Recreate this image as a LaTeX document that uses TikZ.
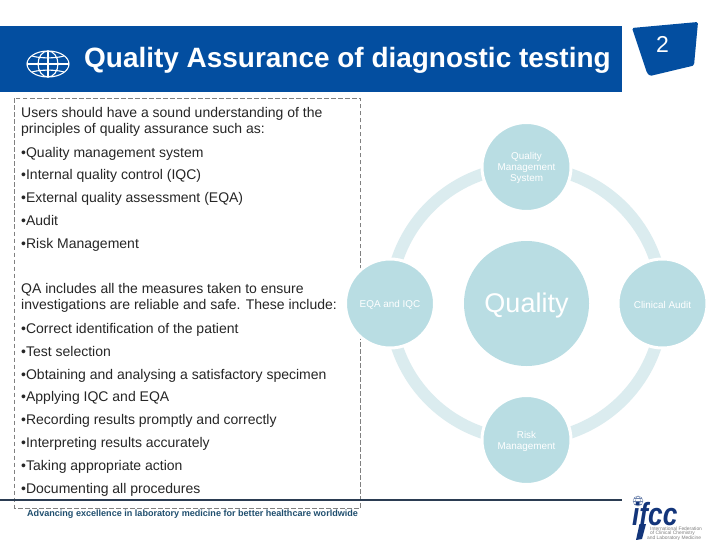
\documentclass[tikz,border=0pt]{standalone}
\usepackage{fontspec}
\setmainfont{Liberation Sans}
\usetikzlibrary{backgrounds}
\definecolor{hdrblue}{HTML}{034EA0}
\definecolor{circ}{HTML}{B9DDE3}
\definecolor{ringc}{HTML}{DBECEF}
\definecolor{rulec}{HTML}{2B3C52}
\definecolor{foot}{HTML}{1F4E6E}
\definecolor{logoc}{HTML}{13357A}
\definecolor{dashc}{HTML}{808080}
\definecolor{bodyc}{HTML}{262626}
\tikzset{
  x=1pt,y=-1pt,
  bodytxt/.style={anchor=base west,inner sep=0pt,yshift=-0.6pt,text=bodyc,font=\fontsize{14}{16}\selectfont},
  satlabel/.style={inner sep=0pt,text=white,align=center,yshift=-1.2pt,font=\fontsize{9.9}{11}\selectfont},
  sat/.style={circle,fill=circ,draw=white,line width=3pt,minimum size=89pt,inner sep=0pt},
  hub/.style={circle,fill=circ,minimum size=125pt,inner sep=0pt},
  hublabel/.style={inner sep=0pt,text=white,yshift=-2pt,font=\fontsize{27}{30}\selectfont},
  ringarc/.style={draw=ringc,line width=12pt},
  globeline/.style={draw=white,line width=1.1pt},
  smallglobe/.style={draw=logoc!60,line width=0.4pt},
  logotxt/.style={anchor=base west,inner sep=0pt,text=gray,font=\fontsize{4.9}{6}\selectfont}
}
\begin{document}
\begin{tikzpicture}
\useasboundingbox (0,0) rectangle (720,540);
% header
\fill[hdrblue] (0,26) rectangle (622,92);
\node[anchor=base west,inner sep=0pt,text=white,font=\bfseries\fontsize{27.95}{30}\selectfont] (title) at (84,68) {Quality Assurance of diagnostic testing};
% globe
\draw[globeline] (48,64) ellipse [x radius=21,y radius=13];
\draw[globeline] (48,64) ellipse [x radius=10,y radius=13];
\draw[globeline] (48,51) -- (48,77);
\draw[globeline] (27,64) -- (69,64);
\draw[globeline] (32,56) .. controls (40,58.5) and (56,58.5) .. (64,56);
\draw[globeline] (32,72) .. controls (40,69.5) and (56,69.5) .. (64,72);
% badge
\fill[hdrblue,rounded corners=1.5pt] (632,28) -- (698,22) -- (694,65.5) -- (650,76) -- (647,73) -- cycle;
\node[text=white,inner sep=0pt,font=\fontsize{23}{24}\selectfont] (pagenum) at (662.5,44.5) {2};
% text
\node[bodytxt] (t1) at (21,117) {Users should have a sound understanding of the};
\node[bodytxt] (t2) at (21,133) {principles of quality assurance such as:};
\node[bodytxt] (t3) at (21,157) {•Quality management system};
\node[bodytxt] (t4) at (21,179) {•Internal quality control (IQC)};
\node[bodytxt] (t5) at (21,202) {•External quality assessment (EQA)};
\node[bodytxt] (t6) at (21,225) {•Audit};
\node[bodytxt] (t7) at (21,248) {•Risk Management};
\node[bodytxt] (t8) at (21,293) {QA includes all the measures taken to ensure};
\node[bodytxt] (t9) at (21,309) {investigations are reliable and safe. These include:};
\node[bodytxt] (t10) at (21,333) {•Correct identification of the patient};
\node[bodytxt] (t11) at (21,356) {•Test selection};
\node[bodytxt] (t12) at (21,379) {•Obtaining and analysing a satisfactory specimen};
\node[bodytxt] (t13) at (21,401) {•Applying IQC and EQA};
\node[bodytxt] (t14) at (21,424) {•Recording results promptly and correctly};
\node[bodytxt] (t15) at (21,447) {•Interpreting results accurately};
\node[bodytxt] (t16) at (21,470) {•Taking appropriate action};
\node[bodytxt] (t17) at (21,493) {•Documenting all procedures};
% cycle
\node[hub,label={[hublabel]center:Quality}] (hubq) at (526.5,303.5) {};
\node[sat,label={[satlabel]center:{Quality\\Management\\System}}] (qms) at (526.5,167) {};
\node[sat,label={[satlabel]center:{Clinical Audit}}] (audit) at (662.5,303.5) {};
\node[sat,label={[satlabel]center:{Risk\\Management}}] (risk) at (526.5,440) {};
\node[sat,label={[satlabel]center:{EQA and IQC}}] (eqa) at (390,303.5) {};
\begin{pgfonlayer}{background}
\fill[white] (0,0) rectangle (720,540);
\draw[dashc,dash pattern=on 4.5pt off 2.5pt,line width=0.8pt] (14.5,98.5) rectangle (360.5,508);
\draw[ringarc] (qms.center) to[bend left=45] (audit.center);
\draw[ringarc] (audit.center) to[bend left=45] (risk.center);
\draw[ringarc] (risk.center) to[bend left=45] (eqa.center);
\draw[ringarc] (eqa.center) to[bend left=45] (qms.center);
\end{pgfonlayer}
% footer
\draw[rulec,line width=2pt] (0,500) -- (622,500);
\node[anchor=base west,inner sep=0pt,text=foot,font=\bfseries\fontsize{9.06}{10}\selectfont] (foottxt) at (27,516) {Advancing excellence in laboratory medicine for better healthcare worldwide};
% logo
\draw[smallglobe] (638,501) circle (5);
\draw[smallglobe] (638,501) ellipse [x radius=2.5,y radius=5];
\draw[smallglobe] (633,501) -- (643,501);
\draw[smallglobe] (634,498) -- (642,498);
\draw[smallglobe] (634,504) -- (642,504);
\node[anchor=base west,inner sep=0pt,text=logoc,xscale=0.82,font=\bfseries\itshape\fontsize{32}{32}\selectfont] (ifcc) at (632,525) {ifcc};
\fill[logoc] (639.5,524) -- (646,524) -- (642,539) -- (636,540) -- cycle;
\node[logotxt] (l1) at (650,530) {International Federation};
\node[logotxt] (l2) at (650,534.7) {of Clinical Chemistry};
\node[logotxt] (l3) at (647,539.4) {and Laboratory Medicine};
\end{tikzpicture}
\end{document}
